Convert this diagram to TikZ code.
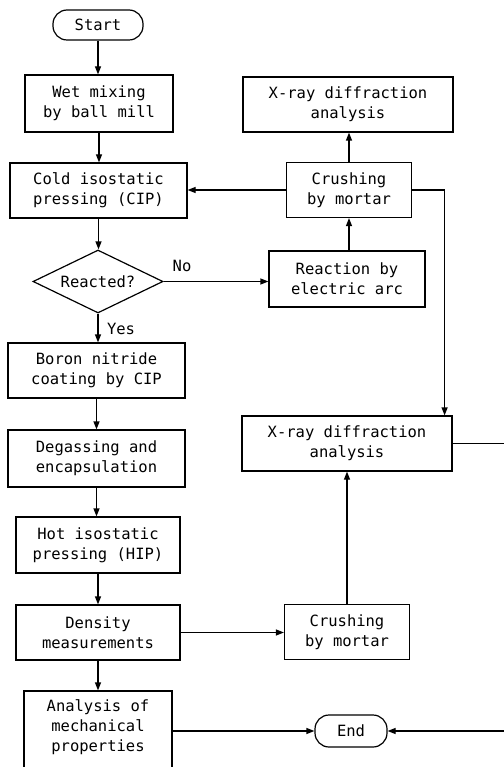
\documentclass[tikz,border=0pt]{standalone}
\usepackage{fontspec}
\setmonofont{DejaVu Sans Mono}
\usetikzlibrary{arrows.meta,shapes.geometric,calc}
\begin{document}
\begin{tikzpicture}[x=1pt,y=-1pt,
  every node/.style={font=\ttfamily\fontsize{15.5}{20}\selectfont},
  box/.style={draw,line width=1.2pt,rectangle,align=center,inner sep=0pt},
  term/.style={draw,line width=1.2pt,rectangle,rounded corners=14pt,inner sep=0pt},
  dec/.style={draw,line width=1.2pt,diamond,aspect=2,inner sep=0pt},
  conn/.style={line width=1.2pt},
  arr/.style={conn,-{Triangle[length=8pt,width=6pt]}},
  lbl/.style={inner sep=0pt}]
\useasboundingbox (0,0) rectangle (503,767);
% left column
\node[term,minimum width=90pt,minimum height=30pt] (start) at (98,25) {Start};
\node[box,minimum width=148pt,minimum height=57pt] (wet) at (99,103.5) {Wet mixing\\by ball mill};
\node[box,minimum width=177pt,minimum height=55pt] (cold) at (98.5,190.5) {Cold isostatic\\pressing (CIP)};
\node[dec,minimum width=130pt,minimum height=63pt] (dia) at (98,281.5) {Reacted?};
\node[box,minimum width=177pt,minimum height=55pt] (boron) at (96.5,370.5) {Boron nitride\\coating by CIP};
\node[box,minimum width=177pt,minimum height=57pt] (degas) at (96.5,458.5) {Degassing and\\encapsulation};
\node[box,minimum width=164pt,minimum height=56pt] (hip) at (98,545) {Hot isostatic\\pressing (HIP)};
\node[box,minimum width=164pt,minimum height=55pt] (dens) at (98,632.5) {Density\\measurements};
\node[box,minimum width=148pt,minimum height=89pt] (anal) at (98,735.5) {};
\node[align=center,inner sep=0pt] (analtext) at (98,727) {Analysis of\\mechanical\\properties};
% right column
\node[box,minimum width=210pt,minimum height=55pt] (xr1) at (348,104.5) {X-ray diffraction\\analysis};
\node[box,minimum width=125pt,minimum height=55pt] (cr1) at (349,190) {Crushing\\by mortar};
\node[box,minimum width=156pt,minimum height=56pt] (react) at (347,279) {Reaction by\\electric arc};
\node[box,minimum width=210pt,minimum height=55pt] (xr2) at (347,443.5) {X-ray diffraction\\analysis};
\node[box,minimum width=125pt,minimum height=55pt] (cr2) at (347,632) {Crushing\\by mortar};
\node[term,minimum width=72pt,minimum height=32pt] (end) at (351,731) {End};
\node[lbl] (no) at (182,266) {No};
\node[lbl] (yes) at (121,329) {Yes};
% connectors
\draw[arr] (start.south) -- (start.south |- wet.north);
\draw[arr] (wet.south) -- (wet.south |- cold.north);
\draw[arr] (cold.south) -- (cold.south |- dia.north);
\draw[arr] (dia.south) -- (dia.south |- boron.north);
\draw[arr] (boron.south) -- (boron.south |- degas.north);
\draw[arr] (degas.south) -- (degas.south |- hip.north);
\draw[arr] (hip.south) -- (hip.south |- dens.north);
\draw[arr] (dens.south) -- (dens.south |- anal.north);
\draw[arr] (dia.east) -- (dia.east -| react.west);
\draw[arr] (cr1.south |- react.north) -- (cr1.south);
\draw[arr] (cr1.north) -- (cr1.north |- xr1.south);
\draw[arr] (cr1.west) -- (cr1.west -| cold.east);
\draw[arr] (cr1.east) -| ([xshift=-8pt]xr2.north east);
\draw[arr] (dens.east) -- (dens.east -| cr2.west);
\draw[arr] (cr2.north) -- (cr2.north |- xr2.south);
\coordinate (rc) at (506,443.5);
\draw[arr] (xr2.east) -- (rc) |- (end.east);
\draw[arr] (end.west -| anal.east) -- (end.west);
\end{tikzpicture}
\end{document}
